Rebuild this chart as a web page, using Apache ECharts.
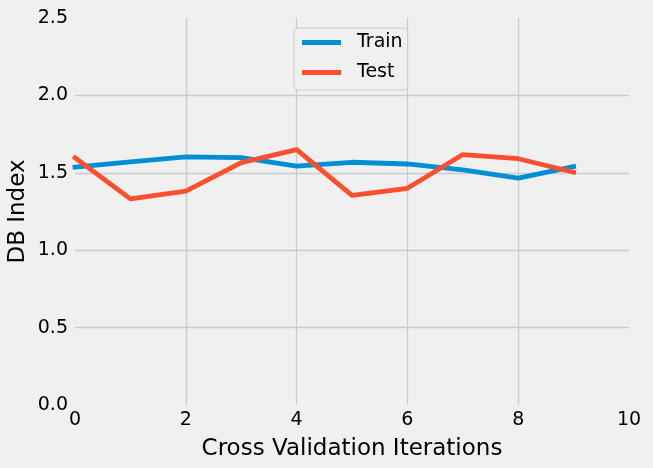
<!DOCTYPE html>
<html>
<head>
<meta charset="utf-8">
<title>DB Index</title>
<script src="https://cdn.jsdelivr.net/npm/echarts@6/dist/echarts.min.js"></script>
<style>
  html, body { margin: 0; padding: 0; background: #f0f0f0; }
  #chart { width: 653px; height: 468px; }
</style>
</head>
<body>
<div id="chart"></div>
<script>
// cross validation fold index
const iterations = [0, 1, 2, 3, 4, 5, 6, 7, 8, 9];
const trainScores = [1.536, 1.571, 1.603, 1.598, 1.543, 1.568, 1.557, 1.519, 1.465, 1.540];
const testScores = [1.597, 1.332, 1.381, 1.566, 1.650, 1.354, 1.400, 1.618, 1.591, 1.504];
const xTicks = [0, 2, 4, 6, 8, 10];
const yTicks = [0, 0.5, 1.0, 1.5, 2.0, 2.5];

const font = 'DejaVu Sans';
const gridColor = '#cbcbcb';

function pairs(xs, ys) {
  return xs.map((x, i) => [x, ys[i]]);
}

var chart = echarts.init(document.getElementById('chart'), null, { renderer: 'canvas' });

var option = {
  backgroundColor: '#f0f0f0',
  animation: false,
  grid: { left: 75, right: 24, top: 18, bottom: 63, containLabel: false, outerBoundsMode: 'none' },
  legend: {
    left: 294,
    top: 28,
    orient: 'vertical',
    padding: [5, 5, 8, 8],
    itemGap: 11,
    itemWidth: 39,
    itemHeight: 5,
    icon: 'rect',
    borderColor: '#cccccc',
    borderWidth: 1,
    borderRadius: 4,
    backgroundColor: '#f0f0f0',
    textStyle: { fontFamily: font, fontSize: 19, color: '#000', lineHeight: 19, padding: [0, 0, 0, 11] },
    data: ['Train', 'Test']
  },
  xAxis: {
    type: 'value',
    min: xTicks[0],
    max: xTicks[xTicks.length - 1],
    interval: xTicks[1] - xTicks[0],
    name: 'Cross Validation Iterations',
    nameLocation: 'middle',
    nameGap: 33,
    nameMoveOverlap: false,
    nameTextStyle: { fontFamily: font, fontSize: 23, color: '#000' },
    axisLine: { show: false },
    axisTick: { show: false },
    axisLabel: { fontFamily: font, fontSize: 19, color: '#000', margin: 6 },
    splitLine: { show: true, showMinLine: false, showMaxLine: false, lineStyle: { color: gridColor, width: 1.3 } }
  },
  yAxis: {
    type: 'value',
    min: yTicks[0],
    max: yTicks[yTicks.length - 1],
    interval: yTicks[1] - yTicks[0],
    name: 'DB Index',
    nameLocation: 'middle',
    nameGap: 45,
    nameMoveOverlap: false,
    nameTextStyle: { fontFamily: font, fontSize: 23, color: '#000' },
    axisLine: { show: false },
    axisTick: { show: false },
    axisLabel: {
      fontFamily: font, fontSize: 19, color: '#000', margin: 7,
      formatter: v => v.toFixed(1)
    },
    splitLine: { show: true, showMinLine: false, showMaxLine: false, lineStyle: { color: gridColor, width: 1.3 } }
  },
  series: [
    {
      name: 'Train',
      type: 'line',
      data: pairs(iterations, trainScores),
      showSymbol: false,
      color: '#008fd5',
      lineStyle: { width: 4.8, cap: 'square', join: 'round' }
    },
    {
      name: 'Test',
      type: 'line',
      data: pairs(iterations, testScores),
      showSymbol: false,
      color: '#fc4f30',
      lineStyle: { width: 4.8, cap: 'square', join: 'round' }
    }
  ]
};

chart.setOption(option);
</script>
</body>
</html>
